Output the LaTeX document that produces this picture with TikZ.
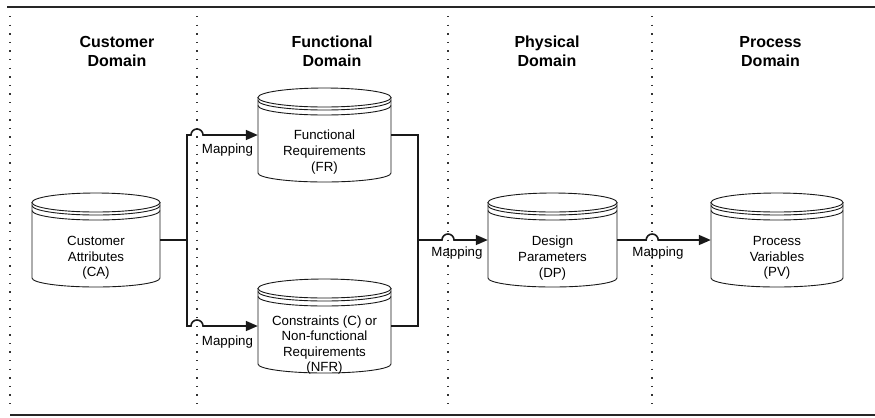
\documentclass[tikz,border=0pt]{standalone}
\usepackage{fontspec}
\setmainfont{Liberation Sans}
\usetikzlibrary{arrows.meta,calc}

\tikzset{
  storeline/.style={draw=black!90, line width=0.9bp, fill=white},
  storebody/.style={rectangle, inner sep=0pt, minimum height=94bp},
  storetext/.style={align=center, font=\fontsize{13.3bp}{15.6bp}\selectfont, inner sep=0pt},
  title/.style={align=center, font=\fontsize{16bp}{19bp}\selectfont\bfseries, inner sep=0pt},
  maplabel/.style={font=\fontsize{13.3bp}{15.6bp}\selectfont, inner sep=0pt},
  conn/.style={draw=black!90, line width=1.6bp},
  arrowconn/.style={conn, -{Triangle[length=12bp,width=10bp]}},
  divider/.style={draw=black!80, line width=1.3bp, dash pattern=on 1.3bp off 7.3bp},
  rule/.style={draw=black!85, line width=2bp},
}

% datastore cylinder: name, x, y, width
\newcommand\datastore[4]{%
  \node[storebody, minimum width=#4bp] (#1) at (#2,#3) {};
  \begin{scope}[shift={(#2,#3)}]
    \pgfmathsetmacro\hw{#4/2}
    \draw[storeline] (-\hw,-37.5) -- (-\hw,38)
      arc[start angle=180, end angle=0, x radius=\hw, y radius=9] -- (\hw,-37.5) -- cycle;
    \draw[storeline] (0,-37.5) ellipse [x radius=\hw, y radius=9.5];
    \draw[storeline, fill=none] (-\hw,-34.5) arc[start angle=180, end angle=0, x radius=\hw, y radius=9.5];
    \draw[storeline, fill=none] (-\hw,-29.5) arc[start angle=180, end angle=0, x radius=\hw, y radius=9.5];
  \end{scope}%
}

\begin{document}
\begin{tikzpicture}[x=1bp, y=-1bp]
  \useasboundingbox (0,0) rectangle (875,417);

  % horizontal rules
  \draw[rule] (7,6.5) -- (875,6.5);
  \draw[rule] (10,414.5) -- (875,414.5);

  % domain separators
  \foreach \dx in {10,197,448,652}
    \draw[divider] (\dx,16) -- (\dx,410);

  % domain titles
  \node[title] (t-cust) at (117,51.5) {Customer\\Domain};
  \node[title] (t-func) at (332,51.5) {Functional\\Domain};
  \node[title] (t-phys) at (547,51.5) {Physical\\Domain};
  \node[title] (t-proc) at (770.5,51.5) {Process\\Domain};

  % data stores
  \datastore{ca}{96}{240}{128}
  \datastore{fr}{324.5}{135}{133}
  \datastore{nfr}{324.5}{326}{133}
  \datastore{dp}{552.5}{240}{129}
  \datastore{pv}{777}{240}{132}

  \node[storetext] (ca-text)  at (96,258)    {Customer\\Attributes\\(CA)};
  \node[storetext] (fr-text)  at (324.5,152) {Functional\\Requirements\\(FR)};
  \node[storetext] (nfr-text) at (324.5,345) {Constraints (C) or\\Non-functional\\Requirements\\(NFR)};
  \node[storetext] (dp-text)  at (552.5,258) {Design\\Parameters\\(DP)};
  \node[storetext] (pv-text)  at (777,258)   {Process\\Variables\\(PV)};

  % branching points
  \coordinate (split) at (187,240);
  \coordinate (merge) at (418,240);

  % connectors (with small jumps over the separators)
  \draw[conn] (ca.east) -- (split);
  \draw[arrowconn] (split) -- (split |- fr.west) -- ++(4,0)
    arc[start angle=180, end angle=360, radius=6] -- (fr.west);
  \draw[arrowconn] (split) -- (split |- nfr.west) -- ++(4,0)
    arc[start angle=180, end angle=360, radius=6] -- (nfr.west);
  \draw[conn] (fr.east) -| (merge);
  \draw[conn] (nfr.east) -| (merge);
  \draw[arrowconn] (merge) -- ++(24,0)
    arc[start angle=180, end angle=360, radius=6] -- (dp.west);
  \draw[arrowconn] (dp.east) -- ++(29,0)
    arc[start angle=180, end angle=360, radius=6] -- (pv.west);

  % mapping labels
  \node[maplabel] (map-fr)  at (227.5,150) {Mapping};
  \node[maplabel] (map-nfr) at (227.5,342) {Mapping};
  \node[maplabel] (map-dp)  at (457,253)   {Mapping};
  \node[maplabel] (map-pv)  at (658,253)   {Mapping};
\end{tikzpicture}
\end{document}
